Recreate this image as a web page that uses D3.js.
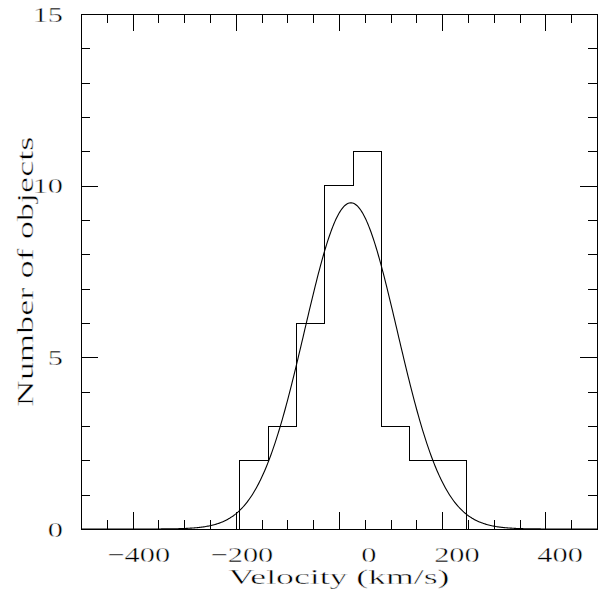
<!DOCTYPE html>
<html>
<head>
<meta charset="utf-8">
<script src="https://cdn.jsdelivr.net/npm/d3@7"></script>
<style>
  body { margin: 0; background: #fff; }
  text { font-family: "Liberation Serif", serif; fill: #000; stroke: #fff; stroke-width: 0.4px; }
</style>
</head>
<body>
<script>
// histogram bins (km/s) and counts
const binEdges = [-192.5, -137.5, -82.5, -27.5, 27.5, 82.5, 137.5, 192.5, 247.5];
const counts = [2, 3, 6, 10, 11, 3, 2, 2];

// gaussian fit
const fitMean = 23, fitSigma = 90, fitPeak = 9.5;

const xMajor = [-400, -200, 0, 200, 400];
const yMajor = [0, 5, 10, 15];

const box = {left: 81, top: 14, right: 597, bottom: 529},
    width = box.right - box.left,
    height = box.bottom - box.top;

const svg = d3.select("body")
  .append("svg")
  .attr("width", 599)
  .attr("height", 599);

const g = svg.append("g")
  .attr("transform", `translate(${box.left},${box.top})`);

const x = d3.scaleLinear().domain([-500, 500]).range([0, width]);
const y = d3.scaleLinear().domain([0, 15]).range([height, 0]);

const xMinor = d3.range(-500, 501, 50).filter(v => v % 200 !== 0);
const yMinor = d3.range(0, 16, 1).filter(v => v % 5 !== 0);

const fmt = d => d < 0 ? "\u2212" + Math.abs(d) : String(d);

function ticks(axis, vals, size, labels) {
  return axis.tickValues(vals).tickSize(-size)
    .tickFormat(labels ? fmt : "");
}

// bottom
const bx = g.append("g").attr("transform", `translate(0,${height})`)
  .call(ticks(d3.axisBottom(x), xMajor, 17, true).tickPadding(17));
g.append("g").attr("transform", `translate(0,${height})`)
  .call(ticks(d3.axisBottom(x), xMinor, 9, false));
// top
g.append("g").call(ticks(d3.axisTop(x), xMajor, 17, false));
g.append("g").call(ticks(d3.axisTop(x), xMinor, 9, false));
// left
const ly = g.append("g")
  .call(ticks(d3.axisLeft(y), yMajor, 17, true).tickPadding(18));
g.append("g").call(ticks(d3.axisLeft(y), yMinor, 9, false));
// right
g.append("g").attr("transform", `translate(${width},0)`)
  .call(ticks(d3.axisRight(y), yMajor, 17, false));
g.append("g").attr("transform", `translate(${width},0)`)
  .call(ticks(d3.axisRight(y), yMinor, 9, false));

g.selectAll(".domain").remove();
g.selectAll(".tick line").attr("stroke", "#000").attr("shape-rendering", "crispEdges");
g.selectAll(".tick text").attr("font-size", 22).attr("font-family", null).attr("fill", "#000");

// the x labels sit right of their ticks in the original
bx.selectAll(".tick text").attr("text-anchor", "end").attr("dx", 37);

// wide hershey-like glyphs
g.selectAll(".tick text").each(function() {
  const w = this.getComputedTextLength();
  if (w > 0) d3.select(this).attr("textLength", w * 1.38).attr("lengthAdjust", "spacingAndGlyphs");
});

g.append("rect")
  .attr("width", width)
  .attr("height", height)
  .attr("fill", "none")
  .attr("stroke", "#000")
  .attr("shape-rendering", "crispEdges");

// histogram outline
const steps = [];
counts.forEach((c, i) => {
  steps.push([binEdges[i], c]);
  steps.push([binEdges[i + 1], c]);
});
steps.unshift([binEdges[0], 0]);
steps.push([binEdges[binEdges.length - 1], 0]);

g.append("path")
  .datum(steps)
  .attr("fill", "none")
  .attr("stroke", "#000")
  .attr("shape-rendering", "crispEdges")
  .attr("d", d3.line().x(d => x(d[0])).y(d => y(d[1])));

// gaussian curve
const curve = d3.range(-500, 501, 2).map(v =>
  [v, fitPeak * Math.exp(-((v - fitMean) ** 2) / (2 * fitSigma * fitSigma))]);

g.append("path")
  .datum(curve)
  .attr("fill", "none")
  .attr("stroke", "#000")
  .attr("stroke-width", 1.1)
  .attr("d", d3.line().x(d => x(d[0])).y(d => y(d[1])));

// axis titles
svg.append("text")
  .attr("x", (box.left + box.right) / 2)
  .attr("y", 584)
  .attr("text-anchor", "middle")
  .attr("font-size", 22)
  .attr("textLength", 221)
  .attr("lengthAdjust", "spacingAndGlyphs")
  .text("Velocity (km/s)");

svg.append("text")
  .attr("transform", `translate(33,${(box.top + box.bottom) / 2}) rotate(-90)`)
  .attr("text-anchor", "middle")
  .attr("font-size", 23)
  .attr("textLength", 270)
  .attr("lengthAdjust", "spacingAndGlyphs")
  .text("Number of objects");
</script>
</body>
</html>
